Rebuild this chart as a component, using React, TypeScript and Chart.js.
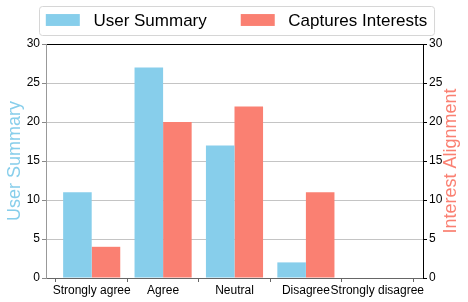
import { useEffect, useRef } from 'react';
import { Chart, registerables } from 'chart.js';

Chart.register(...registerables);

const categories = ['Strongly agree', 'Agree', 'Neutral', 'Disagree', 'Strongly disagree'];
const userSummary = [11, 27, 17, 2, 0];
const capturesInterests = [4, 20, 22, 11, 0];
const seriesNames = ['User Summary', 'Captures Interests'];
const axisTitles = ['User Summary', 'Interest Alignment'];
const yMin = 0;
const yMax = 30;
const yStep = 5;

const FONT = '"Liberation Sans", Arial, Helvetica, sans-serif';
const SKY = '#87CEEB';
const SALMON = '#FA8072';

const boxLegend = {
  id: 'boxLegend',
  afterDraw(chart: any) {
    const ctx = chart.ctx as CanvasRenderingContext2D;
    const F = 17;
    ctx.save();
    ctx.font = `${F}px ${FONT}`;
    const items = chart.data.datasets.map((d: any) => ({
      label: d.label,
      color: d.backgroundColor,
      w: ctx.measureText(d.label).width,
    }));
    const handleW = 2 * F, handleH = 0.7 * F, textPad = 0.8 * F, colSp = 2 * F, pad = 0.4 * F;
    let content = 0;
    items.forEach((it: any, i: number) => {
      content += handleW + textPad + it.w + (i > 0 ? colSp : 0);
    });
    const boxW = content + 2 * pad;
    const cx = (chart.chartArea.left + chart.chartArea.right) / 2 + 2;
    const left = Math.round(cx - boxW / 2);
    const top = 6, h = 29, cy = top + h / 2;
    ctx.beginPath();
    if ((ctx as any).roundRect) (ctx as any).roundRect(left + 0.5, top + 0.5, boxW, h, 3);
    else ctx.rect(left + 0.5, top + 0.5, boxW, h);
    ctx.fillStyle = 'rgba(255,255,255,0.8)';
    ctx.fill();
    ctx.strokeStyle = '#d6d6d6';
    ctx.lineWidth = 1;
    ctx.stroke();
    let x = left + pad;
    items.forEach((it: any, i: number) => {
      if (i > 0) x += colSp;
      ctx.fillStyle = it.color;
      ctx.fillRect(x, cy - handleH / 2 - 0.5, handleW, handleH);
      x += handleW + textPad;
      ctx.fillStyle = '#000';
      ctx.textBaseline = 'middle';
      ctx.textAlign = 'left';
      ctx.fillText(it.label, x, cy + 0.5);
      x += it.w;
    });
    ctx.restore();
  },
};

// Right axis title, rotated bottom-to-top like the left one
const rightTitle = {
  id: 'rightTitle',
  afterDraw(chart: any) {
    const ctx = chart.ctx as CanvasRenderingContext2D;
    const scale = chart.scales.y2;
    const area = chart.chartArea;
    ctx.save();
    ctx.font = `18px ${FONT}`;
    ctx.fillStyle = SALMON;
    ctx.textAlign = 'center';
    ctx.textBaseline = 'middle';
    ctx.translate(scale.right - 17, (area.top + area.bottom) / 2);
    ctx.rotate(-Math.PI / 2);
    ctx.fillText(axisTitles[1], 0, 0);
    ctx.restore();
  },
};

export default function App() {
  const ref = useRef<HTMLCanvasElement>(null);

  useEffect(() => {
    if (!ref.current) return;
    Chart.defaults.font.family = FONT;
    const chart = new Chart(ref.current, {
      type: 'bar',
      data: {
        datasets: [
          {
            label: seriesNames[0],
            data: userSummary.map((v, i) => ({ x: i, y: v })),
            backgroundColor: SKY,
            borderWidth: 0,
            yAxisID: 'y',
            categoryPercentage: 0.8,
            barPercentage: 1,
          },
          {
            label: seriesNames[1],
            data: capturesInterests.map((v, i) => ({ x: i, y: v })),
            backgroundColor: SALMON,
            borderWidth: 0,
            yAxisID: 'y2',
            categoryPercentage: 0.8,
            barPercentage: 1,
          },
        ],
      } as any,
      options: {
        responsive: false,
        animation: false,
        layout: { padding: { top: 44, left: 0, right: 0, bottom: 0 } },
        plugins: {
          legend: { display: false },
          tooltip: { enabled: false },
        },
        scales: {
          x: {
            type: 'linear',
            min: -0.64,
            max: categories.length - 1 + 0.64,
            bounds: 'data',
            offset: false,
            afterBuildTicks: (axis: any) => {
              axis.ticks = categories.map((_, i) => ({ value: i }));
            },
            afterFit: (s: any) => { s.height = 24; },
            ticks: {
              autoSkip: false,
              maxRotation: 0,
              minRotation: 0,
              padding: 1,
              color: '#000',
              font: { size: 12 },
              callback: (v: any) => categories[v as number] ?? '',
            },
            grid: { drawOnChartArea: false, drawTicks: true, tickLength: 4, tickColor: '#666' },
            border: { color: '#666', width: 1 },
          },
          y: {
            type: 'linear',
            position: 'left',
            min: yMin,
            max: yMax,
            afterFit: (s: any) => { s.width = 46; },
            ticks: { stepSize: yStep, color: '#000', font: { size: 12 }, padding: 2 },
            grid: {
              color: (c: any) => (c.tick && c.tick.value === yMax ? '#000' : '#c4c4c4'),
              tickColor: '#888',
              tickLength: 4,
              lineWidth: 1,
            },
            border: { color: '#999', width: 1 },
            title: {
              display: true,
              text: axisTitles[0],
              color: SKY,
              font: { size: 18 },
              padding: { top: 4, bottom: 0 },
            },
          },
          y2: {
            type: 'linear',
            position: 'right',
            min: yMin,
            max: yMax,
            afterFit: (s: any) => { s.width = 45; },
            ticks: { stepSize: yStep, color: '#000', font: { size: 12 }, padding: 2 },
            grid: { drawOnChartArea: false, tickColor: '#000', tickLength: 4 },
            border: { color: '#000', width: 1 },
            title: { display: false, text: axisTitles[1] },
          },
        },
      } as any,
      plugins: [boxLegend, rightTitle],
    });
    return () => chart.destroy();
  }, []);

  return (
    <div style={{ position: 'absolute', left: 0, top: 0, width: 468, height: 302, background: '#fff' }}>
      <canvas ref={ref} width={468} height={302} />
    </div>
  );
}
